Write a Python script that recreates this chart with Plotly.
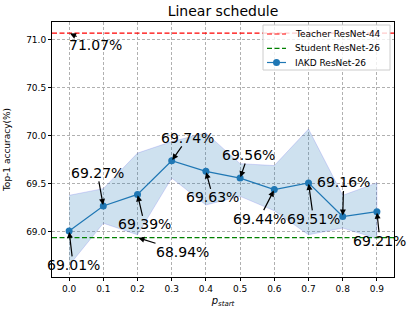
import plotly.graph_objects as go

# ---- data ----
p_start = [0.0, 0.1, 0.2, 0.3, 0.4, 0.5, 0.6, 0.7, 0.8, 0.9]
iakd_mean = [69.01, 69.27, 69.39, 69.74, 69.63, 69.56, 69.44, 69.51, 69.16, 69.21]
iakd_upper = [69.38, 69.45, 69.82, 69.94, 70.03, 69.71, 69.69, 70.07, 69.38, 69.51]
iakd_lower = [68.65, 69.09, 68.97, 69.56, 69.28, 69.37, 69.22, 68.97, 69.04, 68.93]
teacher_acc = 71.07
student_acc = 68.94
x_ticks = [0.0, 0.1, 0.2, 0.3, 0.4, 0.5, 0.6, 0.7, 0.8, 0.9]
y_ticks = [69.0, 69.5, 70.0, 70.5, 71.0]
series_names = ["Teacher ResNet-44", "Student ResNet-26", "IAKD ResNet-26"]

# ---- layout settings ----
X_LO, X_HI = -0.05, 0.95
Y_LO, Y_HI = 68.53, 71.185
FONT = "DejaVu Sans"
W, H = 411, 313
ML, MR, MT, MB = 52, 17, 22, 36
PW, PH = W - ML - MR, H - MT - MB

def px_x(p):  # pixel -> paper x
    return (p - ML) / PW

def px_y(p):  # pixel -> paper y
    return 1 - (p - MT) / PH

# label offsets (pixels) for annotations on the IAKD points
mean_offsets = [(4, 34), (-6, -33), (7, 30), (16, -23), (7, 26),
                (8, -23), (-15, 29), (5, 36), (1, -34), (3, 29)]
teacher_offset = (26, 12)
student_offset = (45, 14)

C0 = "#1f77b4"
DASH = "5px,2.5px"

fig = go.Figure()

# std band
fig.add_trace(go.Scatter(
    x=p_start + p_start[::-1],
    y=iakd_upper + iakd_lower[::-1],
    fill="toself",
    fillcolor="rgba(31,119,180,0.22)",
    line=dict(color="rgba(110,110,235,0.25)", width=1),
    hoverinfo="skip", showlegend=False, mode="lines",
))

fig.add_trace(go.Scatter(
    x=[X_LO, X_HI], y=[teacher_acc, teacher_acc], mode="lines",
    name=series_names[0], showlegend=False,
    line=dict(color="red", width=1.2, dash=DASH),
))
fig.add_trace(go.Scatter(
    x=[X_LO, X_HI], y=[student_acc, student_acc], mode="lines",
    name=series_names[1], showlegend=False,
    line=dict(color="green", width=1.2, dash=DASH),
))
fig.add_trace(go.Scatter(
    x=p_start, y=iakd_mean, mode="lines+markers",
    name=series_names[2], showlegend=False,
    line=dict(color=C0, width=1.2),
    marker=dict(color=C0, size=7),
))

annotations = []
def ann(x, y, text, off):
    annotations.append(dict(
        x=x, y=y, xref="x", yref="y", text=text,
        ax=off[0], ay=off[1], axref="pixel", ayref="pixel",
        showarrow=True, arrowhead=2, arrowsize=1, arrowwidth=1.2,
        arrowcolor="black", standoff=1, borderpad=0,
        font=dict(family=FONT, size=14, color="black"),
    ))

for xv, yv, off in zip(p_start, iakd_mean, mean_offsets):
    ann(xv, yv, f"{yv:.2f}%", off)
ann(p_start[0], teacher_acc, f"{teacher_acc:.2f}%", teacher_offset)
ann(p_start[2], student_acc, f"{student_acc:.2f}%", student_offset)

# ---- manual legend (matplotlib-like compact legend) ----
shapes = []
leg_box = (263, 25, 390, 70)  # pixel box
shapes.append(dict(type="rect", xref="paper", yref="paper",
                   x0=px_x(leg_box[0]), x1=px_x(leg_box[2]),
                   y0=px_y(leg_box[3]), y1=px_y(leg_box[1]),
                   fillcolor="rgba(255,255,255,0.8)",
                   line=dict(color="#cccccc", width=1), layer="above"))
row_y = [34, 48.3, 62.5]
handle_x0, handle_x1, text_x = 267, 286, 293
leg_colors = ["red", "green", C0]
leg_dash = [DASH, DASH, "solid"]
for i, name in enumerate(series_names):
    shapes.append(dict(type="line", xref="paper", yref="paper",
                       x0=px_x(handle_x0), x1=px_x(handle_x1),
                       y0=px_y(row_y[i]), y1=px_y(row_y[i]),
                       line=dict(color=leg_colors[i], width=1.2, dash=leg_dash[i]),
                       layer="above"))
    annotations.append(dict(x=px_x(text_x), y=px_y(row_y[i]), xref="paper",
                            yref="paper", text=name, showarrow=False,
                            xanchor="left", yanchor="middle",
                            font=dict(family=FONT, size=9, color="black")))
# marker in IAKD legend handle
mx = px_x((handle_x0 + handle_x1) / 2)
my = px_y(row_y[2])
shapes.append(dict(type="circle", xref="paper", yref="paper",
                   xsizemode="pixel", ysizemode="pixel",
                   xanchor=mx, yanchor=my, x0=-3.5, x1=3.5, y0=-3.5, y1=3.5,
                   fillcolor=C0, line=dict(color=C0, width=0), layer="above"))

axis_common = dict(
    showline=True, linecolor="black", linewidth=1, mirror=True,
    ticks="outside", ticklen=3, tickcolor="black", tickwidth=0.8,
    showgrid=True, gridcolor="#b0b0b0", gridwidth=0.8, griddash="3px,2px",
    zeroline=False, automargin=False,
    tickfont=dict(family=FONT, size=9, color="black"),
)

fig.update_layout(
    width=W, height=H,
    margin=dict(l=ML, r=MR, t=MT, b=MB, autoexpand=False),
    paper_bgcolor="white", plot_bgcolor="white",
    font=dict(family=FONT, size=9, color="black"),
    title=dict(text="Linear schedule", x=0.5, xref="paper", xanchor="center",
               y=0.963, yref="container", yanchor="middle",
               font=dict(family=FONT, size=14, color="black")),
    xaxis=dict(range=[X_LO, X_HI], tickvals=x_ticks,
               ticktext=[f"{v:.1f}" for v in x_ticks],
               title=dict(text="<i>p</i><sub><i>start</i></sub>", standoff=4,
                          font=dict(family=FONT, size=10, color="black")),
               **axis_common),
    yaxis=dict(range=[Y_LO, Y_HI], tickvals=y_ticks,
               ticktext=[f"{v:.1f}" for v in y_ticks],
               title=dict(text="Top-1 accuracy(%)", standoff=14,
                          font=dict(family=FONT, size=9, color="black")),
               **axis_common),
    annotations=annotations,
    shapes=shapes,
    showlegend=False,
    hovermode=False,
)

fig.write_html(
    "out.html",
    config={"displayModeBar": False},
    post_script="document.body.style.margin='0';document.body.style.padding='0';"
                "document.body.style.overflow='hidden';",
)
